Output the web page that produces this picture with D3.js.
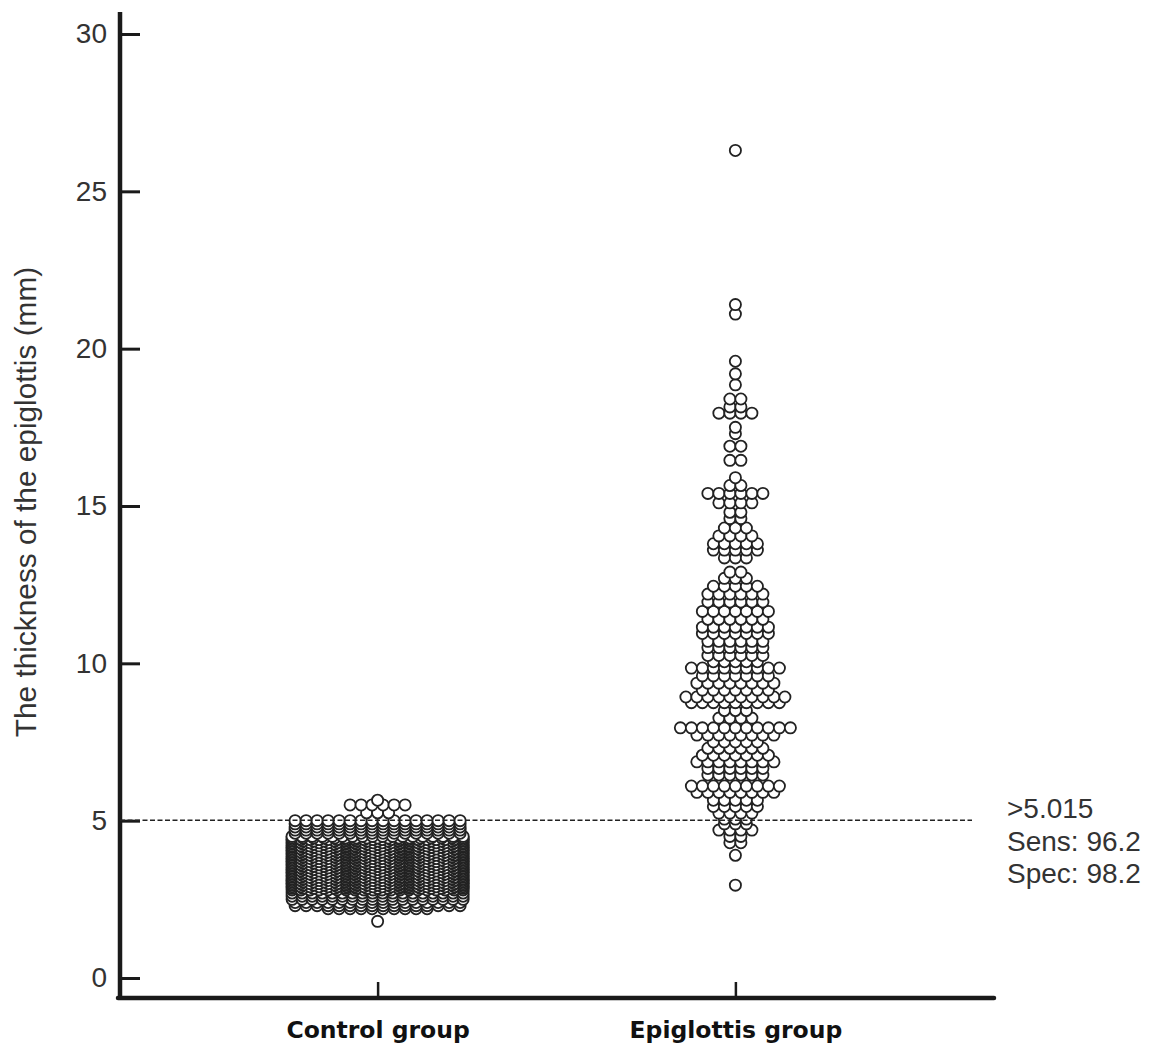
<!DOCTYPE html>
<html>
<head>
<meta charset="utf-8">
<script src="https://cdnjs.cloudflare.com/ajax/libs/d3/7.8.5/d3.min.js"></script>
<style>
    body { margin: 0; background: #fff; }
    .y-axis text { font-family: "Liberation Sans", Arial, sans-serif; font-size: 28px; fill: #333; }
    .x-axis text { font-family: "DejaVu Sans", sans-serif; font-weight: bold; font-size: 23.5px; fill: #111; }
    .axis line { stroke: #1a1a1a; }
    .axis-title { font-family: "Liberation Sans", Arial, sans-serif; font-size: 29.8px; fill: #333; }
    .cut-label { font-family: "Liberation Sans", Arial, sans-serif; font-size: 28px; fill: #333; }
    .dot { fill: #fff; stroke: #222; stroke-width: 1.8; }
</style>
</head>
<body>
<div id="chart-area"></div>
<script>

// groups + ticks
var groups = ["Control group", "Epiglottis group"];
var yTicks = [0, 5, 10, 15, 20, 25, 30];

// control group: thickness level (mm) and number of patients at that level
var controlLevels = [1.8, 2.2, 2.3, 2.4, 2.5, 2.6, 2.7, 2.8, 2.85, 2.9, 2.95, 3.0, 3.05, 3.1, 3.15, 3.2, 3.25,
    3.3, 3.35, 3.4, 3.45, 3.5, 3.55, 3.6, 3.65, 3.7, 3.75, 3.8, 3.85, 3.9, 3.95, 4.0, 4.05, 4.1, 4.15,
    4.2, 4.25, 4.3, 4.35, 4.4, 4.45, 4.5, 4.6, 4.7, 4.8, 4.9, 5.0, 5.25, 5.5, 5.65];
var controlCounts = [1, 10, 16, 16, 18, 18, 18, 20, 17, 20, 17, 20, 17, 20, 17, 20, 17,
    20, 17, 20, 17, 20, 17, 20, 17, 20, 17, 20, 17, 20, 17, 20, 17, 20, 17,
    20, 17, 20, 17, 20, 17, 18, 16, 16, 16, 16, 16, 3, 6, 1];

// epiglottitis group
var epiLevels = [2.95, 3.9, 4.3, 4.5, 4.7, 4.9, 5.05, 5.24, 5.45, 5.65, 5.9, 6.1, 6.45, 6.66, 6.87, 7.08,
    7.3, 7.5, 7.72, 7.95, 8.26, 8.5, 8.75, 8.93, 9.15, 9.37, 9.6, 9.85, 10.05, 10.25, 10.5, 10.7,
    10.95, 11.15, 11.4, 11.65, 11.95, 12.2, 12.45, 12.7, 12.9, 13.35, 13.6, 13.8, 14.05, 14.3,
    14.6, 14.8, 15.1, 15.4, 15.65, 15.9, 16.45, 16.9, 17.3, 17.5, 17.95, 18.15, 18.4, 18.85,
    19.2, 19.6, 21.1, 21.4, 26.3];
var epiCounts = [1, 1, 2, 2, 4, 3, 3, 4, 5, 5, 8, 9, 6, 6, 8, 7,
    6, 5, 8, 11, 4, 3, 9, 10, 7, 8, 7, 9, 5, 6, 6, 6,
    7, 7, 6, 7, 6, 6, 5, 3, 2, 3, 5, 5, 4, 3,
    2, 2, 4, 6, 2, 1, 2, 2, 1, 1, 4, 2, 2, 1,
    1, 1, 1, 1, 1];

// cut-off
var cutoff = 5.015;
var cutoffLabels = [">5.015", "Sens: 96.2", "Spec: 98.2"];


DotPlot = function(_parentElement){
    this.parentElement = _parentElement;
    this.initVis();
}

DotPlot.prototype.initVis = function(){
    var vis = this;

    vis.width = 1159;
    vis.height = 1049;

    vis.svg = d3.select("#" + vis.parentElement).append("svg")
        .attr("width", vis.width)
        .attr("height", vis.height);

    vis.y = d3.scaleLinear()
        .domain([0, 30])
        .range([978, 34]);

    vis.x = d3.scalePoint()
        .domain(groups)
        .range([120, 993])
        .padding(0.72);

    vis.r = 5.6;
    vis.dotStep = 11;
    vis.maxSpan = {"Control group": 171, "Epiglottis group": 400};

    vis.wrangleData();
}

DotPlot.prototype.wrangleData = function(){
    var vis = this;

    vis.points = [];

    function addRows(group, levels, counts) {
        levels.forEach(function(v, i) {
            var n = counts[i];
            var step = n > 1 ? Math.min(vis.dotStep, vis.maxSpan[group] / (n - 1)) : 0;
            for (var j = 0; j < n; j++) {
                vis.points.push({group: group, value: v, offset: (j - (n - 1) / 2) * step});
            }
        });
    }

    addRows("Control group", controlLevels, controlCounts);
    addRows("Epiglottis group", epiLevels, epiCounts);

    vis.updateVis();
}

DotPlot.prototype.updateVis = function(){
    var vis = this;

    // y axis (ticks point inwards)
    vis.yAxis = d3.axisLeft(vis.y)
        .tickValues(yTicks)
        .tickSizeInner(-20)
        .tickSizeOuter(0)
        .tickPadding(13);

    vis.svg.append("g")
        .attr("class", "axis y-axis")
        .attr("transform", "translate(120,0)")
        .call(vis.yAxis)
        .call(function(g) { g.select(".domain").remove(); })
        .selectAll("line").attr("stroke-width", 3);

    vis.xAxis = d3.axisBottom(vis.x)
        .tickSizeInner(-16)
        .tickSizeOuter(0);

    var xg = vis.svg.append("g")
        .attr("class", "axis x-axis")
        .attr("transform", "translate(0,998)")
        .call(vis.xAxis)
        .call(function(g) { g.select(".domain").remove(); });
    xg.selectAll("line").attr("stroke-width", 2.5);
    xg.selectAll("text").attr("y", 40).attr("dy", 0);

    // axis lines
    vis.svg.append("line")
        .attr("x1", 120).attr("x2", 120)
        .attr("y1", 12).attr("y2", 1000)
        .attr("stroke", "#1a1a1a").attr("stroke-width", 4.5);
    vis.svg.append("line")
        .attr("x1", 118).attr("x2", 994)
        .attr("y1", 998).attr("y2", 998)
        .attr("stroke", "#1a1a1a").attr("stroke-width", 4.5)
        .attr("stroke-linecap", "round");

    vis.svg.append("text")
        .attr("class", "axis-title")
        .attr("text-anchor", "middle")
        .attr("transform", "translate(36,502) rotate(-90)")
        .text("The thickness of the epiglottis (mm)");

    // dots
    vis.svg.selectAll(".dot")
        .data(vis.points)
        .enter()
        .append("circle")
        .attr("class", "dot")
        .attr("cx", function(d) { return vis.x(d.group) + d.offset; })
        .attr("cy", function(d) { return vis.y(d.value); })
        .attr("r", vis.r);

    // cut-off line
    vis.svg.append("line")
        .attr("x1", 120).attr("x2", 972)
        .attr("y1", vis.y(cutoff)).attr("y2", vis.y(cutoff))
        .attr("stroke", "#222")
        .attr("stroke-width", 1.6)
        .attr("stroke-dasharray", "5,2.5");

    vis.svg.selectAll(".cut-label")
        .data(cutoffLabels)
        .enter()
        .append("text")
        .attr("class", "cut-label")
        .attr("x", 1007)
        .attr("y", function(d, i) { return vis.y(cutoff) - 2 + i * 32.5; })
        .text(function(d) { return d; });
}

var dotplot = new DotPlot("chart-area");
</script>
</body>
</html>
